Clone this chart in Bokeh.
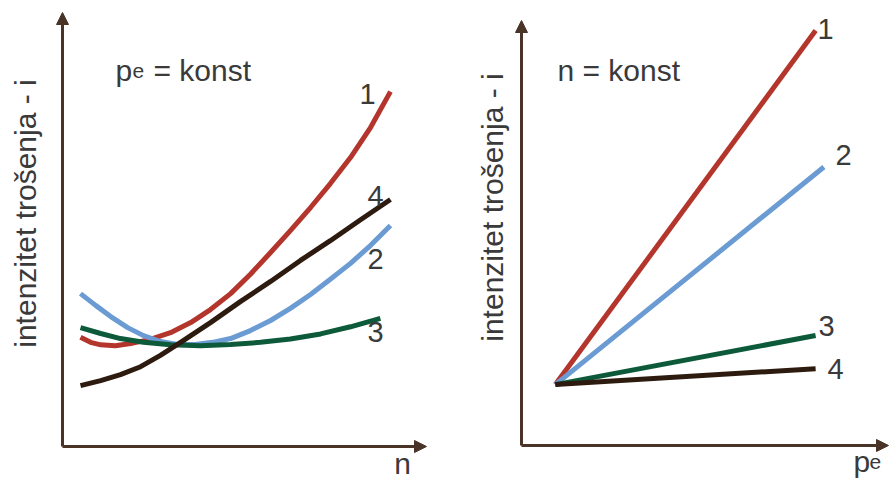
import math
from bokeh.plotting import figure
from bokeh.models import Range1d, Label, Arrow, NormalHead
from bokeh.layouts import row
from bokeh.embed import file_html
from bokeh.resources import INLINE

# ---------------- data (relative units) ----------------
# Left panel: p_e = konst, x = n
n_curve1 = [5.0, 7.8, 10.6, 14.7, 18.9, 24.4, 30.0, 35.6, 41.1, 46.7, 52.2, 57.8, 63.3, 68.9, 74.4, 80.0, 85.6, 91.1]
i_curve1 = [26.0, 24.8, 24.2, 24.0, 24.5, 25.5, 27.1, 29.5, 32.6, 36.4, 41.0, 46.2, 51.4, 56.9, 62.6, 68.8, 76.0, 84.5]

n_curve2 = [5.0, 9.2, 13.3, 18.1, 22.5, 27.2, 31.9, 36.9, 41.7, 46.7, 52.2, 57.8, 63.3, 68.9, 74.4, 80.0, 85.6, 91.1]
i_curve2 = [36.4, 33.6, 31.0, 28.3, 26.4, 25.0, 24.3, 24.3, 24.8, 25.7, 27.6, 30.0, 32.9, 36.2, 39.8, 43.6, 47.9, 52.6]

n_curve3 = [5.0, 10.6, 16.1, 22.5, 30.0, 38.3, 46.7, 55.0, 63.3, 71.7, 80.0, 88.3]
i_curve3 = [28.3, 26.9, 25.7, 24.8, 24.2, 24.0, 24.3, 24.8, 25.6, 26.8, 28.5, 30.5]

n_curve4 = [5.0, 10.6, 16.1, 21.7, 27.2, 32.8, 41.1, 49.4, 57.8, 66.1, 74.4, 82.8, 91.1]
i_curve4 = [14.5, 15.7, 17.1, 19.0, 21.7, 24.8, 29.5, 34.5, 39.3, 44.3, 49.0, 54.0, 58.8]

# Right panel: n = konst, x = p_e
pe_line1 = [9.4, 81.7]
i_line1 = [14.5, 98.8]
pe_line2 = [9.4, 84.0]
i_line2 = [14.5, 66.3]
pe_line3 = [9.4, 81.7]
i_line3 = [14.5, 26.2]
pe_line4 = [9.4, 81.7]
i_line4 = [14.5, 18.3]

curve_labels = ["1", "2", "3", "4"]
y_label = "intenzitet trošenja - i"

# ---------------- styling ----------------
COLORS = ["#b3352c", "#6b9bd3", "#0c5a3a", "#2e1b10"]
AXIS_COLOR = "#4a3428"
TEXT_COLOR = "#3a3a3a"
FONT = "Liberation Sans"
SX, SY = 3.6, 4.2  # pixels per unit

W_LEFT, W_RIGHT, H = 446, 445, 479


def make_fig(page_x0, width, origin):
    ox, oy = origin
    xr = Range1d((page_x0 - ox) / SX, (page_x0 + width - ox) / SX)
    yr = Range1d((oy - H) / SY, oy / SY)
    p = figure(width=width, height=H, x_range=xr, y_range=yr,
               output_backend="svg", toolbar_location=None,
               x_axis_type=None, y_axis_type=None, min_border=0)
    p.grid.visible = False
    p.outline_line_color = None
    p.background_fill_color = "white"
    p.border_fill_color = "white"
    return p


def tx(px, origin):
    return (px - origin[0]) / SX


def ty(py, origin):
    return (origin[1] - py) / SY


def add_text(p, origin, px, py, text, size=30, align="left", baseline="alphabetic", angle=0.0):
    p.add_layout(Label(x=tx(px, origin), y=ty(py, origin), text=text,
                       text_font=FONT, text_font_size=f"{size}px",
                       text_color=TEXT_COLOR, text_align=align,
                       text_baseline=baseline, angle=angle))


def add_axes(p, origin, x_tip_px, y_tip_px):
    for (x0, y0, x1, y1) in [(0, 0, tx(x_tip_px, origin), 0),
                             (0, 0, 0, ty(y_tip_px, origin))]:
        p.add_layout(Arrow(x_start=x0, y_start=y0, x_end=x1, y_end=y1,
                           line_color=AXIS_COLOR, line_width=3,
                           end=NormalHead(size=12, fill_color=AXIS_COLOR,
                                          line_color=AXIS_COLOR, line_width=1)))


# ---------------- left panel ----------------
LO = (62, 446)
left = make_fig(0, W_LEFT, LO)
add_axes(left, LO, 426, 12)
left_series = [(n_curve1, i_curve1), (n_curve2, i_curve2),
               (n_curve3, i_curve3), (n_curve4, i_curve4)]
for (xs, ys), c in zip(left_series, COLORS):
    left.line(xs, ys, line_color=c, line_width=5, line_join="round", line_cap="butt")

add_text(left, LO, 25, 213, y_label, align="center", baseline="middle", angle=math.pi / 2)
add_text(left, LO, 115, 70, "p")
add_text(left, LO, 132, 70, "e", size=21)
add_text(left, LO, 153, 70, "= konst")
add_text(left, LO, 402, 463, "n", align="center", baseline="alphabetic")
left_label_pos = [(367, 93), (375, 258), (375, 331), (375, 195)]
for lab, (px, py) in zip(curve_labels, left_label_pos):
    add_text(left, LO, px, py, lab, size=29, align="center", baseline="middle")

# ---------------- right panel ----------------
RO = (521, 445)
right = make_fig(W_LEFT, W_RIGHT, RO)
add_axes(right, RO, 888, 20)
right_series = [(pe_line1, i_line1), (pe_line2, i_line2),
                (pe_line3, i_line3), (pe_line4, i_line4)]
for (xs, ys), c in zip(right_series, COLORS):
    right.line(xs, ys, line_color=c, line_width=5, line_join="round", line_cap="butt")

add_text(right, RO, 492, 207, y_label, align="center", baseline="middle", angle=math.pi / 2)
add_text(right, RO, 557, 70, "n = konst")
add_text(right, RO, 853, 461, "p")
add_text(right, RO, 869, 461, "e", size=21)
right_label_pos = [(825, 28), (843, 154), (826, 325), (835, 368)]
for lab, (px, py) in zip(curve_labels, right_label_pos):
    add_text(right, RO, px, py, lab, size=29, align="center", baseline="middle")

layout = row(left, right, spacing=0)
open("out.html", "w").write(file_html(layout, INLINE))
